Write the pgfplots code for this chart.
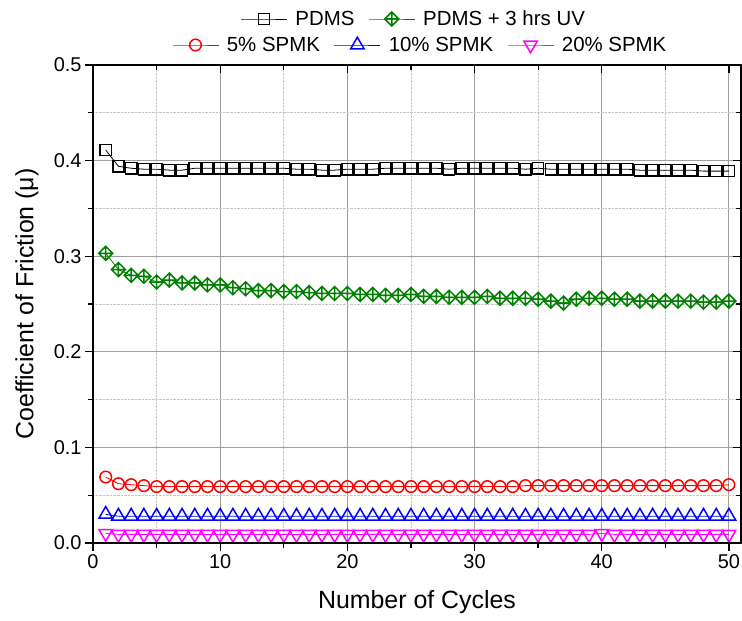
\documentclass[border=0pt]{standalone}
\usepackage{fontspec}
\setmainfont{Liberation Sans}
\usepackage{pgfplots}
\pgfplotsset{compat=1.18}

\definecolor{ogreen}{RGB}{0,128,0}
\definecolor{omag}{RGB}{255,0,255}

% diamond with a plus inside (Origin style)
\pgfdeclareplotmark{dplus}{%
  \pgfpathmoveto{\pgfqpoint{0pt}{\pgfplotmarksize}}%
  \pgfpathlineto{\pgfqpoint{\pgfplotmarksize}{0pt}}%
  \pgfpathlineto{\pgfqpoint{0pt}{-\pgfplotmarksize}}%
  \pgfpathlineto{\pgfqpoint{-\pgfplotmarksize}{0pt}}%
  \pgfpathclose
  \pgfpathmoveto{\pgfqpoint{0pt}{\pgfplotmarksize}}%
  \pgfpathlineto{\pgfqpoint{0pt}{-\pgfplotmarksize}}%
  \pgfpathmoveto{\pgfqpoint{\pgfplotmarksize}{0pt}}%
  \pgfpathlineto{\pgfqpoint{-\pgfplotmarksize}{0pt}}%
  \pgfusepathqstroke}

\pgfplotstableread{
x pdms uv spmk5 spmk10 spmk20
1 0.411 0.303 0.069 0.030 0.010
2 0.394 0.286 0.062 0.028 0.009
3 0.392 0.280 0.061 0.028 0.009
4 0.391 0.279 0.060 0.028 0.009
5 0.391 0.273 0.059 0.028 0.009
6 0.390 0.275 0.059 0.028 0.009
7 0.390 0.272 0.059 0.028 0.009
8 0.392 0.272 0.059 0.028 0.009
9 0.392 0.270 0.059 0.028 0.009
10 0.392 0.270 0.059 0.028 0.009
11 0.392 0.267 0.059 0.028 0.009
12 0.392 0.266 0.059 0.028 0.009
13 0.392 0.264 0.059 0.028 0.009
14 0.392 0.264 0.059 0.028 0.009
15 0.392 0.263 0.059 0.028 0.009
16 0.391 0.263 0.059 0.028 0.009
17 0.391 0.262 0.059 0.028 0.009
18 0.390 0.261 0.059 0.028 0.009
19 0.390 0.261 0.059 0.028 0.009
20 0.391 0.261 0.059 0.028 0.009
21 0.391 0.260 0.059 0.028 0.009
22 0.391 0.260 0.059 0.028 0.009
23 0.392 0.259 0.059 0.028 0.009
24 0.392 0.259 0.059 0.028 0.009
25 0.392 0.260 0.059 0.028 0.009
26 0.392 0.258 0.059 0.028 0.009
27 0.392 0.258 0.059 0.028 0.009
28 0.391 0.257 0.059 0.028 0.009
29 0.392 0.257 0.059 0.028 0.009
30 0.392 0.257 0.059 0.028 0.009
31 0.392 0.258 0.059 0.028 0.009
32 0.392 0.256 0.059 0.028 0.009
33 0.392 0.256 0.059 0.028 0.009
34 0.391 0.256 0.060 0.028 0.009
35 0.392 0.255 0.060 0.028 0.009
36 0.391 0.253 0.060 0.028 0.009
37 0.391 0.251 0.060 0.028 0.009
38 0.391 0.255 0.060 0.028 0.009
39 0.391 0.256 0.060 0.028 0.009
40 0.391 0.256 0.060 0.028 0.010
41 0.391 0.255 0.060 0.028 0.009
42 0.391 0.255 0.060 0.028 0.009
43 0.390 0.253 0.060 0.028 0.009
44 0.390 0.253 0.060 0.028 0.009
45 0.390 0.253 0.060 0.028 0.009
46 0.390 0.253 0.060 0.028 0.009
47 0.390 0.253 0.060 0.028 0.009
48 0.389 0.252 0.060 0.028 0.009
49 0.389 0.252 0.060 0.028 0.009
50 0.389 0.253 0.061 0.028 0.009
}\cof

\pgfplotsset{
  cofbase/.style={
    scale only axis,
    width=648bp, height=478bp,
    xmin=0, xmax=50.95,
    ymin=0, ymax=0.5,
    xtick={0,10,20,30,40,50},
    ytick={0,0.1,0.2,0.3,0.4,0.5},
    minor xtick={5,15,25,35,45},
    minor ytick={0.05,0.15,0.25,0.35,0.45},
    axis line style={line width=1.3bp},
    major tick length=8bp,
    minor tick length=5bp,
    every tick/.append style={black, line width=1.3bp},
    tick label style={font=\fontsize{20}{24}\selectfont},
    /pgf/number format/assume math mode=true,
    legend style={draw=none, fill=none, inner sep=0pt,
      font=\fontsize{20.5}{24}\selectfont,
      /tikz/every odd column/.append style={column sep=6bp},
      /tikz/every even column/.append style={column sep=12bp}},
    legend columns=-1,
    legend image code/.code={%
      \draw[mark repeat=2, mark phase=2, #1]
        plot coordinates {(0bp,0bp) (23bp,0bp) (46bp,0bp)};},
  },
  sq/.style={black, line width=0.8bp, mark=square, mark size=5.6bp,
    mark options={line width=1.5bp, fill=white}},
  dp/.style={ogreen, line width=0.8bp, mark=dplus, mark size=7bp,
    mark options={line width=1.5bp}},
  ci/.style={red, line width=0.8bp, mark=o, mark size=5.8bp,
    mark options={line width=1.5bp}},
  tu/.style={blue, line width=0.8bp, mark=triangle, mark size=7.8bp,
    mark options={line width=1.5bp}},
  td/.style={omag, line width=0.8bp, mark=triangle, mark size=7.8bp,
    mark options={line width=1.5bp, rotate=180}},
}

\begin{document}
\begin{tikzpicture}
\begin{axis}[
  cofbase, name=ax,
  xtick pos=left, ytick pos=left,
  tick align=outside,
  yticklabel style={/pgf/number format/fixed, /pgf/number format/fixed zerofill,
    /pgf/number format/precision=1},
  xmajorgrids, ymajorgrids, xminorgrids, yminorgrids,
  major grid style={gray!75, line width=0.9bp},
  minor grid style={gray!45, densely dotted, line width=0.8bp},
  xlabel={Number of Cycles},
  ylabel={Coefficient of Friction (μ)},
  label style={font=\fontsize{25}{30}\selectfont},
  xlabel style={at={(axis description cs:0.5,-0.123)}, anchor=center},
  ylabel style={at={(axis description cs:-0.102,0.5)}, anchor=center},
  legend style={at={(axis description cs:0.495,1)}, anchor=center, yshift=46bp},
]
\addplot[sq] table[y=pdms] {\cof};
\addplot[dp] table[y=uv] {\cof};
\addplot[ci] table[y=spmk5] {\cof};
\addplot[tu] table[y=spmk10] {\cof};
\addplot[td] table[y=spmk20] {\cof};
\legend{PDMS, PDMS + 3 hrs UV}
\end{axis}
\begin{axis}[
  cofbase,
  xtick pos=right, ytick pos=right,
  tick align=inside,
  xticklabels={}, yticklabels={},
  legend style={at={(axis description cs:0.505,1)}, anchor=center, yshift=20bp},
]
\addlegendimage{ci}
\addlegendentry{5\% SPMK}
\addlegendimage{tu}
\addlegendentry{10\% SPMK}
\addlegendimage{td}
\addlegendentry{20\% SPMK}
\end{axis}
\pgfresetboundingbox
\path (ax.south west) ++(-93bp,-78bp) coordinate (bbl);
\path (ax.north east) ++(1bp,65bp) coordinate (btr);
\path (bbl) rectangle (btr);
\end{tikzpicture}
\end{document}
